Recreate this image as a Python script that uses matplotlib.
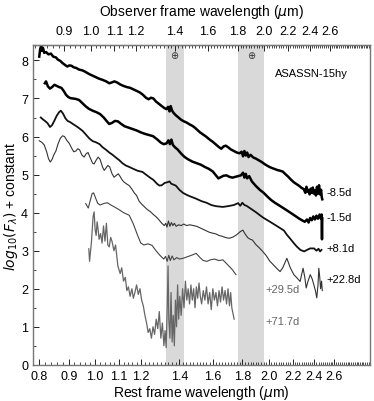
import matplotlib
matplotlib.use("Agg")
import matplotlib.pyplot as plt
import numpy as np
from matplotlib.ticker import FixedLocator, NullFormatter

plt.rcParams['font.family'] = ['Liberation Sans', 'DejaVu Sans']

redshift = 0.0185
telluric_obs = [(1.35, 1.45), (1.80, 2.00)]

x_ticks = [0.8, 0.9, 1.0, 1.1, 1.2, 1.4, 1.6, 1.8, 2.0, 2.2, 2.4, 2.6]
x_tick_labels = ["0.8", "0.9", "1.0", "1.1", "1.2", "1.4", "1.6", "1.8", "2.0", "2.2", "2.4", "2.6"]
top_ticks = [0.9, 1.0, 1.1, 1.2, 1.4, 1.6, 1.8, 2.0, 2.2, 2.4, 2.6]
y_ticks = [0, 1, 2, 3, 4, 5, 6, 7, 8]

phases = ["-8.5d", "-1.5d", "+8.1d", "+22.8d", "+29.5d", "+71.7d"]

wl_m85 = [0.800, 0.803, 0.806, 0.809, 0.812, 0.816, 0.822, 0.830, 0.838, 0.846, 0.855, 0.862, 0.870,
          0.878, 0.887, 0.895, 0.902, 0.910, 0.918, 0.928, 0.938, 0.950, 0.962, 0.977, 0.990, 1.003,
          1.016, 1.030, 1.045, 1.058, 1.068, 1.080, 1.092, 1.105, 1.120, 1.135, 1.150, 1.165, 1.180,
          1.195, 1.210, 1.225, 1.238, 1.250, 1.262, 1.275, 1.290, 1.305, 1.318, 1.330, 1.338, 1.346,
          1.352, 1.360, 1.368, 1.380, 1.395, 1.410, 1.425, 1.440, 1.458, 1.475, 1.490, 1.505, 1.520,
          1.540, 1.560, 1.580, 1.600, 1.620, 1.640, 1.655, 1.670, 1.685, 1.700, 1.720, 1.740, 1.760,
          1.780, 1.795, 1.805, 1.815, 1.825, 1.835, 1.845, 1.860, 1.880, 1.900, 1.920, 1.945, 1.970,
          1.995, 2.020, 2.045, 2.070, 2.095, 2.115, 2.135, 2.160, 2.185, 2.210, 2.235, 2.260, 2.280,
          2.300, 2.315, 2.325, 2.335, 2.345, 2.355, 2.365, 2.375, 2.385, 2.395, 2.405, 2.415, 2.425,
          2.435, 2.445, 2.455, 2.465, 2.472, 2.477]
fl_m85 = [8.10, 8.30, 8.38, 8.25, 8.33, 8.20, 8.22, 8.16, 8.18, 8.10, 8.08, 8.02, 7.99,
          7.93, 7.88, 7.84, 7.87, 7.86, 7.82, 7.80, 7.76, 7.74, 7.70, 7.64, 7.60, 7.56,
          7.52, 7.49, 7.45, 7.40, 7.42, 7.45, 7.42, 7.37, 7.33, 7.30, 7.28, 7.24, 7.20,
          7.16, 7.10, 7.02, 6.98, 7.02, 7.00, 6.92, 6.86, 6.80, 6.75, 6.72, 6.78, 6.66,
          6.80, 6.68, 6.62, 6.56, 6.50, 6.44, 6.40, 6.37, 6.32, 6.28, 6.23, 6.17, 6.11,
          6.05, 5.99, 5.92, 5.86, 5.79, 5.72, 5.68, 5.74, 5.76, 5.72, 5.66, 5.62, 5.58,
          5.56, 5.60, 5.48, 5.62, 5.50, 5.58, 5.46, 5.52, 5.45, 5.42, 5.38, 5.33, 5.27,
          5.22, 5.18, 5.15, 5.12, 5.10, 5.08, 5.02, 4.95, 4.87, 4.80, 4.75, 4.70, 4.65,
          4.62, 4.52, 4.68, 4.55, 4.60, 4.48, 4.63, 4.52, 4.66, 4.50, 4.58, 4.45, 4.68,
          4.50, 4.72, 4.48, 4.60, 4.40, 4.35]

wl_m15 = [0.818, 0.822, 0.828, 0.835, 0.842, 0.850, 0.858, 0.866, 0.874, 0.882, 0.890, 0.898, 0.906,
          0.915, 0.925, 0.938, 0.950, 0.962, 0.975, 0.990, 1.005, 1.020, 1.035, 1.048, 1.058, 1.070,
          1.082, 1.095, 1.110, 1.125, 1.140, 1.160, 1.180, 1.200, 1.220, 1.240, 1.260, 1.280, 1.300,
          1.315, 1.330, 1.340, 1.348, 1.356, 1.364, 1.375, 1.390, 1.410, 1.430, 1.450, 1.475, 1.500,
          1.525, 1.550, 1.575, 1.600, 1.620, 1.636, 1.650, 1.670, 1.690, 1.710, 1.730, 1.760, 1.790,
          1.805, 1.815, 1.825, 1.835, 1.850, 1.870, 1.900, 1.930, 1.960, 1.990, 2.020, 2.050, 2.080,
          2.110, 2.140, 2.170, 2.200, 2.230, 2.260, 2.290, 2.310, 2.330, 2.345, 2.360, 2.375, 2.390,
          2.405, 2.420, 2.435, 2.450, 2.462, 2.470, 2.474, 2.477]
fl_m15 = [7.40, 7.45, 7.32, 7.26, 7.30, 7.36, 7.33, 7.30, 7.28, 7.20, 7.10, 7.04, 7.01,
          7.00, 6.99, 6.96, 6.88, 6.80, 6.73, 6.68, 6.64, 6.59, 6.50, 6.40, 6.33, 6.36,
          6.41, 6.40, 6.33, 6.27, 6.24, 6.20, 6.16, 6.11, 6.07, 6.04, 6.01, 5.93, 5.84,
          5.80, 5.82, 5.90, 5.80, 5.92, 5.78, 5.72, 5.66, 5.55, 5.46, 5.40, 5.34, 5.30,
          5.26, 5.20, 5.15, 5.08, 4.98, 4.90, 4.93, 4.97, 4.98, 4.94, 4.92, 4.95, 4.98,
          5.05, 4.92, 5.02, 4.90, 4.96, 4.82, 4.70, 4.60, 4.52, 4.42, 4.33, 4.26, 4.20,
          4.14, 4.08, 4.02, 3.96, 3.90, 3.84, 3.79, 3.76, 3.82, 3.74, 3.86, 3.80, 3.90,
          3.82, 3.92, 3.84, 3.95, 3.85, 3.95, 3.30, 3.85]

wl_p81 = [0.805, 0.812, 0.820, 0.827, 0.835, 0.842, 0.850, 0.858, 0.866, 0.872, 0.880, 0.888, 0.896,
          0.905, 0.915, 0.926, 0.938, 0.951, 0.964, 0.977, 0.990, 1.003, 1.018, 1.030, 1.045, 1.058,
          1.072, 1.088, 1.101, 1.115, 1.130, 1.146, 1.165, 1.185, 1.208, 1.225, 1.245, 1.262, 1.280,
          1.293, 1.305, 1.320, 1.335, 1.346, 1.355, 1.365, 1.380, 1.400, 1.420, 1.440, 1.460, 1.495,
          1.530, 1.560, 1.590, 1.620, 1.665, 1.700, 1.740, 1.770, 1.785, 1.800, 1.815, 1.830, 1.855,
          1.880, 1.905, 1.931, 1.960, 1.990, 2.010, 2.040, 2.070, 2.100, 2.125, 2.150, 2.178, 2.210,
          2.240, 2.270, 2.304, 2.330, 2.360, 2.397, 2.420, 2.440, 2.455, 2.469]
fl_p81 = [6.50, 6.45, 6.40, 6.35, 6.25, 6.30, 6.42, 6.55, 6.64, 6.68, 6.60, 6.48, 6.41,
          6.38, 6.33, 6.28, 6.22, 6.15, 6.05, 5.95, 5.88, 5.85, 5.80, 5.72, 5.65, 5.58,
          5.52, 5.44, 5.38, 5.30, 5.24, 5.20, 5.15, 5.10, 5.07, 5.00, 4.92, 4.86, 4.76,
          4.71, 4.72, 4.78, 4.80, 4.82, 4.76, 4.74, 4.71, 4.60, 4.52, 4.47, 4.43, 4.37,
          4.30, 4.26, 4.20, 4.17, 4.15, 4.17, 4.20, 4.25, 4.18, 4.26, 4.20, 4.18, 4.12,
          4.06, 4.00, 3.93, 3.86, 3.80, 3.76, 3.70, 3.64, 3.58, 3.53, 3.42, 3.32, 3.20,
          3.10, 3.02, 2.98, 3.02, 3.06, 3.06, 3.00, 3.05, 2.98, 3.02]

wl_p228 = [0.800, 0.808, 0.816, 0.824, 0.830, 0.836, 0.842, 0.848, 0.855, 0.862, 0.870, 0.878, 0.885,
           0.893, 0.902, 0.910, 0.918, 0.926, 0.933, 0.940, 0.948, 0.957, 0.965, 0.972, 0.980, 0.990,
           0.996, 1.004, 1.012, 1.020, 1.030, 1.037, 1.045, 1.052, 1.060, 1.070, 1.079, 1.088, 1.097,
           1.105, 1.115, 1.123, 1.135, 1.146, 1.158, 1.169, 1.180, 1.192, 1.205, 1.218, 1.232, 1.248,
           1.262, 1.278, 1.292, 1.305, 1.318, 1.326, 1.332, 1.340, 1.348, 1.356, 1.364, 1.372, 1.382,
           1.395, 1.410, 1.425, 1.440, 1.460, 1.480, 1.500, 1.520, 1.540, 1.560, 1.580, 1.600, 1.620,
           1.640, 1.660, 1.680, 1.700, 1.712, 1.735, 1.760, 1.785, 1.804, 1.820, 1.840, 1.858, 1.874,
           1.900, 1.925, 1.947, 1.978, 2.010, 2.040, 2.070, 2.093, 2.115, 2.150, 2.180, 2.211, 2.240,
           2.267, 2.294, 2.310, 2.323, 2.340, 2.361, 2.380, 2.394, 2.410, 2.423, 2.435, 2.443, 2.452,
           2.460, 2.470, 2.477]
fl_p228 = [5.89, 5.85, 5.78, 5.60, 5.42, 5.33, 5.40, 5.52, 5.62, 5.80, 5.95, 6.02, 6.00,
           5.90, 5.82, 5.70, 5.60, 5.62, 5.68, 5.65, 5.52, 5.46, 5.55, 5.58, 5.45, 5.30,
           5.28, 5.38, 5.46, 5.40, 5.20, 5.11, 5.18, 5.24, 5.20, 5.02, 4.93, 4.98, 5.02,
           4.95, 4.85, 4.80, 4.75, 4.71, 4.62, 4.52, 4.45, 4.30, 4.22, 4.15, 4.08, 4.02,
           3.95, 3.88, 3.80, 3.72, 3.66, 3.72, 3.62, 3.78, 3.64, 3.74, 3.66, 3.72, 3.64,
           3.68, 3.66, 3.70, 3.66, 3.68, 3.66, 3.64, 3.60, 3.56, 3.52, 3.48, 3.46, 3.44,
           3.40, 3.38, 3.35, 3.33, 3.33, 3.36, 3.42, 3.50, 3.54, 3.44, 3.34, 3.30, 3.28,
           3.16, 3.08, 3.00, 2.88, 2.72, 2.62, 2.52, 2.45, 2.55, 2.80, 2.55, 2.37, 2.28,
           2.19, 2.54, 2.30, 2.02, 2.20, 2.37, 2.25, 2.11, 1.95, 1.76, 2.10, 2.54, 2.30,
           2.00, 2.20, 1.95]

wl_p295 = [0.963, 0.968, 0.973, 0.980, 0.988, 0.994, 1.002, 1.010, 1.020, 1.035, 1.050, 1.065, 1.080,
           1.100, 1.120, 1.146, 1.165, 1.185, 1.200, 1.215, 1.235, 1.255, 1.275, 1.295, 1.315, 1.325,
           1.333, 1.342, 1.350, 1.360, 1.370, 1.385, 1.400, 1.420, 1.445, 1.470, 1.497, 1.520, 1.540,
           1.563, 1.585, 1.610, 1.640, 1.665, 1.690, 1.710, 1.730, 1.745, 1.755]
fl_p295 = [4.24, 4.18, 4.12, 4.30, 4.50, 4.52, 4.38, 4.25, 4.20, 4.24, 4.26, 4.20, 4.15,
           4.08, 4.00, 3.93, 3.70, 3.40, 3.20, 3.15, 3.18, 3.14, 3.00, 2.88, 2.78, 2.85,
           2.72, 2.88, 2.74, 2.86, 2.76, 2.82, 2.78, 2.80, 2.84, 2.88, 2.93, 2.82, 2.74,
           2.72, 2.76, 2.78, 2.74, 2.76, 2.66, 2.58, 2.50, 2.42, 2.37]

wl_p717 = [0.975, 0.978, 0.985, 0.992, 0.996, 1.000, 1.004, 1.008, 1.012, 1.016, 1.022, 1.028, 1.034,
           1.040, 1.046, 1.052, 1.058, 1.064, 1.070, 1.078, 1.085, 1.095, 1.105, 1.112, 1.120, 1.128,
           1.135, 1.142, 1.150, 1.158, 1.165, 1.172, 1.180, 1.188, 1.196, 1.204, 1.212, 1.220, 1.228,
           1.236, 1.244, 1.252, 1.260, 1.268, 1.276, 1.284, 1.292, 1.300, 1.308, 1.316, 1.322, 1.328,
           1.334, 1.338, 1.342, 1.348, 1.354, 1.360, 1.366, 1.372, 1.378, 1.384, 1.390, 1.396, 1.402,
           1.410, 1.418, 1.426, 1.434, 1.442, 1.450, 1.458, 1.466, 1.474, 1.482, 1.490, 1.498, 1.506,
           1.514, 1.522, 1.530, 1.540, 1.550, 1.560, 1.570, 1.580, 1.590, 1.600, 1.610, 1.620, 1.630,
           1.640, 1.650, 1.660, 1.670, 1.680, 1.690, 1.700, 1.710, 1.718, 1.726, 1.734, 1.742]
fl_p717 = [3.05, 2.72, 3.20, 3.90, 4.02, 3.55, 3.40, 3.76, 3.55, 3.30, 3.45, 3.20, 3.65,
           3.25, 3.72, 3.15, 3.10, 3.35, 3.24, 3.00, 3.15, 2.60, 2.40, 2.55, 2.20, 2.30,
           1.95, 2.05, 1.80, 2.00, 1.75, 1.90, 2.10, 1.85, 2.00, 1.70, 1.55, 1.30, 1.10,
           0.85, 0.95, 0.70, 1.00, 0.80, 1.20, 0.95, 1.40, 0.70, 1.10, 0.50, 0.90, 0.45,
           1.60, 2.60, 1.20, 0.70, 1.90, 0.60, 1.30, 0.50, 1.70, 1.00, 2.10, 1.20, 1.80,
           1.30, 2.00, 1.50, 2.20, 1.70, 2.00, 1.60, 2.10, 1.70, 2.00, 1.50, 2.05, 1.75,
           2.15, 1.80, 1.60, 1.95, 1.70, 2.05, 1.60, 1.90, 1.45, 2.00, 1.70, 1.90, 1.55,
           1.95, 1.65, 2.05, 1.70, 1.95, 1.60, 2.00, 1.55, 1.90, 1.50, 1.35, 1.20]

series = [
    (wl_m85, fl_m85, "#000000", 1.8),
    (wl_m15, fl_m15, "#000000", 1.8),
    (wl_p81, fl_p81, "#111111", 1.3),
    (wl_p228, fl_p228, "#333333", 0.8),
    (wl_p295, fl_p295, "#444444", 0.8),
    (wl_p717, fl_p717, "#666666", 0.9),
]
label_pos = [(2.52, 4.54, "#000000"), (2.52, 3.89, "#000000"), (2.52, 3.08, "#000000"),
             (2.52, 2.25, "#000000"), (1.97, 1.98, "#666666"), (1.97, 1.15, "#666666")]

fig = plt.figure(figsize=(3.74, 4.02), dpi=100)
ax = fig.add_axes([0.088, 0.09, 0.902, 0.795])
ax.set_xscale('log')
ax.set_xlim(0.78, 3.0)
ax.set_ylim(0, 8.4)

for lo, hi in telluric_obs:
    ax.axvspan(lo / (1 + redshift), hi / (1 + redshift), color='#d9d9d9', lw=0, zorder=0)
    ax.text(np.sqrt(lo * hi) / (1 + redshift), 8.15, "\u2295", ha='center', va='center', fontsize=7, color='#333333')

for (wl, fl, c, lw) in series:
    ax.plot(wl, fl, color=c, lw=lw)

for (x, y, c), ph in zip(label_pos, phases):
    ax.text(x, y, ph, fontsize=8, color=c, ha='left', va='center')

ax.text(2.37, 7.66, "ASASSN-15hy", fontsize=8, ha='center', va='center')

ax.xaxis.set_major_locator(FixedLocator(x_ticks))
ax.set_xticklabels(x_tick_labels)
ax.xaxis.set_minor_locator(FixedLocator(np.arange(0.78, 3.0, 0.02)))
ax.xaxis.set_minor_formatter(NullFormatter())
ax.set_yticks(y_ticks)
ax.yaxis.set_minor_locator(FixedLocator(np.arange(0.5, 8.4, 1.0)))
ax.tick_params(axis='both', which='major', direction='in', length=4, labelsize=9, width=0.6)
ax.tick_params(axis='both', which='minor', direction='in', length=2, width=0.5)
ax.tick_params(axis='x', which='both', top=False)
for s in ax.spines.values():
    s.set_color('#777777')
    s.set_linewidth(1.0)

secax = ax.secondary_xaxis('top', functions=(lambda x: x * (1 + redshift), lambda x: x / (1 + redshift)))
secax.xaxis.set_major_locator(FixedLocator(top_ticks))
secax.set_xticklabels([str(t) for t in top_ticks])
secax.xaxis.set_minor_locator(FixedLocator(np.arange(0.8, 3.06, 0.02)))
secax.xaxis.set_minor_formatter(NullFormatter())
secax.tick_params(axis='x', which='major', direction='in', length=4, labelsize=9, width=0.6, pad=6)
secax.tick_params(axis='x', which='minor', direction='in', length=2, width=0.5)
secax.set_xlabel("Observer frame wavelength ($\\mu$m)", fontsize=10, labelpad=7)

ax.set_xlabel("Rest frame wavelength ($\\mu$m)", fontsize=10, labelpad=1)
ax.set_ylabel("$log_{10}(F_\\lambda)$ + constant", fontsize=10, labelpad=1)

fig.savefig("out.png", dpi=100)
